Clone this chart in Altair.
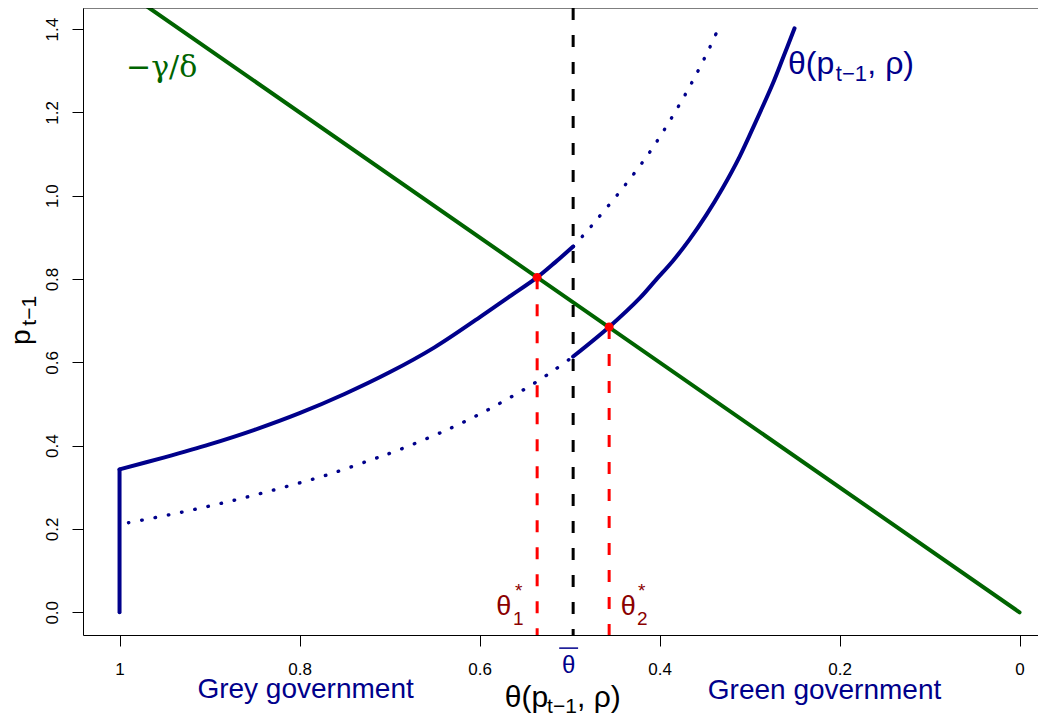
import altair as alt
import pandas as pd

# ---------------- data ----------------
# vertical piece of theta(p_{t-1}, rho) at theta = 1
vert_theta = [1.0, 1.0]
vert_p = [0.0, 0.343]
# upper branch: solid for theta >= theta_bar
upper_solid_theta = [1.0, 0.95, 0.9, 0.85, 0.8, 0.75, 0.7, 0.65, 0.6, 0.568, 0.536, 0.516, 0.496]
upper_solid_p = [0.343, 0.372, 0.403, 0.438, 0.478, 0.524, 0.576, 0.636, 0.708, 0.756, 0.804, 0.840, 0.878]
# upper branch continued (dotted) for theta < theta_bar
upper_dotted_theta = [0.496, 0.481, 0.470, 0.441, 0.413, 0.388, 0.365, 0.344, 0.337]
upper_dotted_p = [0.878, 0.914, 0.942, 1.018, 1.098, 1.182, 1.268, 1.357, 1.39]
# lower branch (dotted) for theta > theta_bar
lower_dotted_theta = [0.99, 0.945, 0.9, 0.856, 0.811, 0.766, 0.723, 0.693, 0.651, 0.623, 0.595, 0.569, 0.542, 0.516, 0.496]
lower_dotted_p = [0.215, 0.234, 0.255, 0.278, 0.304, 0.332, 0.364, 0.387, 0.424, 0.451, 0.481, 0.512, 0.546, 0.583, 0.614]
# lower branch (solid) for theta < theta_bar
lower_solid_theta = [0.496, 0.456, 0.422, 0.404, 0.385, 0.367, 0.348, 0.330, 0.311, 0.293, 0.274, 0.263, 0.25]
lower_solid_p = [0.614, 0.685, 0.754, 0.798, 0.844, 0.894, 0.954, 1.018, 1.094, 1.178, 1.270, 1.330, 1.402]

# -gamma/delta line
green_theta = [1.0, 0.0]
green_p = [1.5, 0.0]

# threshold and equilibria
theta_bar = [0.496]
eq_theta = [0.536, 0.456]
eq_p = [0.804, 0.685]

# axes
x_ticks = [1.0, 0.8, 0.6, 0.4, 0.2, 0.0]
y_ticks = [0.0, 0.2, 0.4, 0.6, 0.8, 1.0, 1.2, 1.4]
x_domain = [1.0406, -0.0205]
y_domain = [-0.0545, 1.4506]

W, H = 955, 627
BLUE = "#00008B"
GREEN = "#006400"
DRED = "#8B0000"
RED = "#FF0000"
SANS = "Liberation Sans"

xs = alt.Scale(domain=x_domain, nice=False, zero=False)
ys = alt.Scale(domain=y_domain, nice=False, zero=False)

xax = alt.Axis(values=x_ticks, title=None, grid=False, tickSize=11, tickColor="black",
               domainColor="black", labelColor="black", labelFont=SANS, labelFontSize=17,
               labelPadding=15.5, labelFlush=False, labelOverlap=False,
               labelExpr="datum.value == 1 ? '1' : datum.value == 0 ? '0' : format(datum.value, '.1f')")
yax = alt.Axis(values=y_ticks, title=None, grid=False, tickSize=11, tickColor="black",
               domainColor="black", labelColor="black", labelFont=SANS, labelFontSize=17,
               labelPadding=15, labelAngle=270, labelAlign="center", labelBaseline="alphabetic",
               labelFlush=False, labelOverlap=False, format=".1f")


def X(field="theta"):
    return alt.X(f"{field}:Q", scale=xs, axis=xax)


def Y(field="p"):
    return alt.Y(f"{field}:Q", scale=ys, axis=yax)


def curve_df(parts):
    rows = []
    for name, th, pp in parts:
        for i, (a, b) in enumerate(zip(th, pp)):
            rows.append({"series": name, "i": i, "theta": a, "p": b})
    return pd.DataFrame(rows)


solid_df = curve_df([("upper", upper_solid_theta, upper_solid_p),
                     ("lower", lower_solid_theta, lower_solid_p)])
vert_df = curve_df([("vert", vert_theta, vert_p)])
dotted_df = curve_df([("upper", upper_dotted_theta, upper_dotted_p),
                      ("lower", lower_dotted_theta, lower_dotted_p)])
green_df = pd.DataFrame({"theta": green_theta, "p": green_p})
bar_df = pd.DataFrame({"theta": theta_bar})
eq_df = pd.DataFrame({"theta": eq_theta, "p": eq_p, "p0": [y_domain[0]] * len(eq_p)})

green = alt.Chart(green_df).mark_line(color=GREEN, strokeWidth=4, clip=True, strokeCap="round").encode(
    x=X(), y=Y())

solid = alt.Chart(solid_df).mark_line(color=BLUE, strokeWidth=4, clip=True, strokeCap="round",
                                      interpolate="catmull-rom").encode(
    x=X(), y=Y(), detail="series:N", order="i:Q")

vert = alt.Chart(vert_df).mark_line(color=BLUE, strokeWidth=4, clip=True, strokeCap="round").encode(
    x=X(), y=Y(), order="i:Q")

dotted = alt.Chart(dotted_df).mark_line(color=BLUE, strokeWidth=3.4, clip=True, strokeCap="round",
                                        strokeDash=[0.5, 13], interpolate="catmull-rom").encode(
    x=X(), y=Y(), detail="series:N", order="i:Q")

bar_rule = alt.Chart(bar_df).mark_rule(color="black", strokeWidth=3, strokeDash=[12, 15]).encode(x=X())

eq_rules = alt.Chart(eq_df).mark_rule(color=RED, strokeWidth=3, strokeDash=[12, 15]).encode(
    x=X(), y=Y(), y2="p0:Q")

eq_pts = alt.Chart(eq_df).mark_circle(color=RED, size=80, opacity=1).encode(x=X(), y=Y())

top_frame = alt.Chart(pd.DataFrame({"a": [0]})).mark_rule(color="black", strokeWidth=1).encode(
    x=alt.value(0), x2=alt.value(W), y=alt.value(0))

# ---------------- text annotations (data coordinates) ----------------
sans_left = pd.DataFrame([
    # top-right curve label
    {"label": "θ(p", "theta": 0.2572, "p": 1.2922, "fs": 32, "col": BLUE},
    {"label": "t−1", "theta": 0.2042, "p": 1.2754, "fs": 22, "col": BLUE},
    {"label": ", ρ)", "theta": 0.1691, "p": 1.2922, "fs": 32, "col": BLUE},
    # x title
    {"label": "θ(p", "theta": 0.5720, "p": -0.2273, "fs": 30, "col": "black"},
    {"label": "t−1", "theta": 0.5250, "p": -0.2418, "fs": 21, "col": "black"},
    {"label": ", ρ)", "theta": 0.4917, "p": -0.2273, "fs": 30, "col": "black"},
    # theta_1*
    {"label": "θ", "theta": 0.5813, "p": -0.0065, "fs": 27, "col": DRED},
    {"label": "1", "theta": 0.5628, "p": -0.0305, "fs": 19, "col": DRED},
    {"label": "*", "theta": 0.5606, "p": 0.0377, "fs": 19, "col": DRED},
    # theta_2*
    {"label": "θ", "theta": 0.4431, "p": -0.0065, "fs": 27, "col": DRED},
    {"label": "2", "theta": 0.4250, "p": -0.0305, "fs": 19, "col": DRED},
    {"label": "*", "theta": 0.4239, "p": 0.0377, "fs": 19, "col": DRED},
])
sans_center = pd.DataFrame([
    {"label": "θ", "theta": 0.5011, "p": -0.1458, "fs": 24, "col": BLUE},
    {"label": "Grey government", "theta": 0.7933, "p": -0.2057, "fs": 28, "col": BLUE},
    {"label": "Green government", "theta": 0.2167, "p": -0.2081, "fs": 28, "col": BLUE},
])
serif_left = pd.DataFrame([
    {"label": "−γ/δ", "theta": 0.9928, "p": 1.2854, "fs": 30, "col": GREEN},
])
ytitle = pd.DataFrame([
    {"label": "p", "theta": 1.0990, "p": 0.6416, "fs": 28, "col": "black"},
    {"label": "t−1", "theta": 1.0925, "p": 0.6880, "fs": 21, "col": "black"},
])
overline = pd.DataFrame({"theta": [0.5115], "theta2": [0.4905], "p": [-0.086]})


def text_layer(df, font, align="left", angle=0):
    return alt.Chart(df).mark_text(font=font, align=align, baseline="alphabetic", angle=angle).encode(
        x=X(), y=Y(), text="label:N",
        size=alt.Size("fs:Q", scale=None), color=alt.Color("col:N", scale=None))


txt1 = text_layer(sans_left, SANS, "left")
txt2 = text_layer(sans_center, SANS, "center")
txt3 = text_layer(serif_left, "DejaVu Serif", "left")
txt4 = text_layer(ytitle, SANS, "left", 270)
ovl = alt.Chart(overline).mark_rule(color=BLUE, strokeWidth=1.5).encode(
    x=X(), x2="theta2:Q", y=Y())

chart = alt.layer(
    green, dotted, solid, vert, bar_rule, eq_rules, eq_pts, top_frame,
    txt1, txt2, txt3, txt4, ovl
).properties(
    width=W, height=H,
    autosize=alt.AutoSizeParams(type="none"),
    padding={"left": 75, "top": 0, "right": 0, "bottom": 86},
    background="white",
).configure_view(stroke=None)

chart.save("out.html", embed_options={"renderer": "svg", "actions": False})
